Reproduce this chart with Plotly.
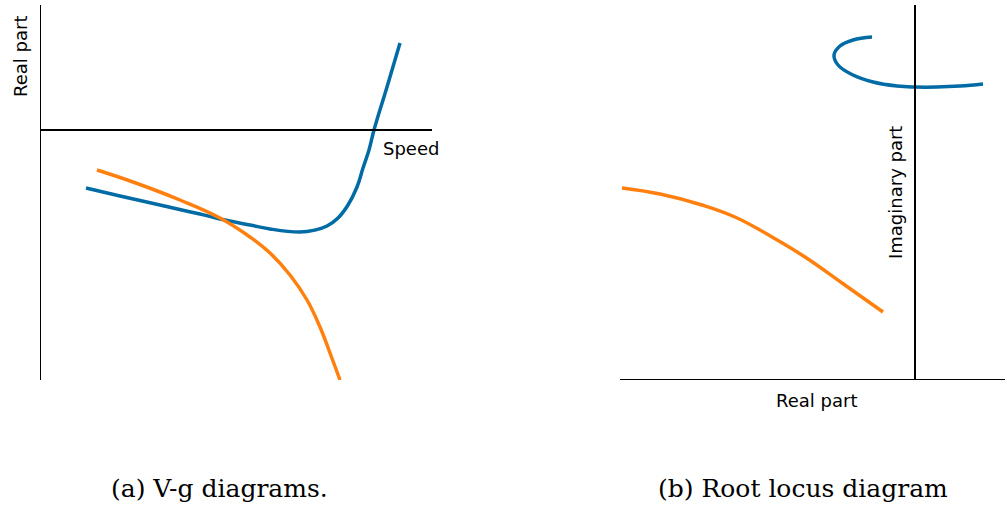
import plotly.graph_objects as go

# (a) V-g diagram: speed vs. real part of two modes
vg_speed_a = [4.6, 8.0, 12.0, 16.0, 18.0, 21.0, 23.0, 26.0, 27.5, 28.7, 29.8, 30.8, 31.7, 32.3, 32.9, 33.4, 34.7, 36.0]
vg_real_a = [-5.8, -6.6, -7.5, -8.4, -8.9, -9.5, -9.9, -10.2, -10.0, -9.6, -8.8, -7.5, -5.7, -3.8, -2.0, 0.0, 4.3, 8.7]
vg_speed_b = [5.7, 9.3, 14.0, 18.0, 21.0, 23.0, 25.0, 26.7, 28.0, 29.0, 30.0]
vg_real_b = [-4.0, -5.2, -7.0, -8.8, -10.7, -12.3, -14.5, -17.0, -19.7, -22.3, -25.0]

# (b) Root locus: real vs. imaginary part of the same two modes
rl_real_a = [-4.3, -6.2, -7.5, -8.1, -7.7, -6.2, -4.2, -1.8, 0.0, 2.2, 4.5, 6.8]
rl_imag_a = [34.3, 34.0, 33.4, 32.5, 31.5, 30.5, 29.8, 29.4, 29.3, 29.3, 29.4, 29.6]
rl_real_b = [-29.3, -25.5, -21.3, -18.0, -14.3, -11.0, -7.3, -3.2]
rl_imag_b = [19.2, 18.6, 17.5, 16.3, 14.3, 12.3, 9.7, 6.8]

BLUE = "#006BA4"
ORANGE = "#FF800E"
W, H = 1007, 508

# axis ranges for each panel
left_x = [0.0, 39.2]
left_y = [-25.0, 12.5]
right_x = [-29.5, 9.0]
right_y = [0.0, 37.5]

fig = go.Figure()

line_style = dict(width=3.5, shape="spline", smoothing=1.2)
fig.add_trace(go.Scatter(x=vg_speed_a, y=vg_real_a, mode="lines",
                         line=dict(color=BLUE, **line_style), xaxis="x", yaxis="y"))
fig.add_trace(go.Scatter(x=vg_speed_b, y=vg_real_b, mode="lines",
                         line=dict(color=ORANGE, **line_style), xaxis="x", yaxis="y"))
fig.add_trace(go.Scatter(x=rl_real_a, y=rl_imag_a, mode="lines",
                         line=dict(color=BLUE, **line_style), xaxis="x2", yaxis="y2"))
fig.add_trace(go.Scatter(x=rl_real_b, y=rl_imag_b, mode="lines",
                         line=dict(color=ORANGE, **line_style), xaxis="x2", yaxis="y2"))

hidden = dict(showgrid=False, zeroline=False, showticklabels=False,
              ticks="", showline=False, fixedrange=True)

fig.update_layout(
    width=W, height=H,
    margin=dict(l=0, r=0, t=0, b=0),
    paper_bgcolor="white", plot_bgcolor="white",
    showlegend=False,
    xaxis=dict(domain=[40 / W, 432 / W], range=left_x, anchor="y", **hidden),
    yaxis=dict(domain=[1 - 380 / H, 1 - 5 / H], range=left_y, anchor="x", **hidden),
    xaxis2=dict(domain=[620 / W, 1005 / W], range=right_x, anchor="y2", **hidden),
    yaxis2=dict(domain=[1 - 380 / H, 1 - 5 / H], range=right_y, anchor="x2", **hidden),
)

# coordinate axes drawn as black lines through the origin of each panel
axis_line = dict(color="black", width=2)
fig.add_shape(type="line", xref="x", yref="y", x0=0, x1=0,
              y0=left_y[0], y1=left_y[1], line=axis_line)
fig.add_shape(type="line", xref="x", yref="y", x0=left_x[0], x1=left_x[1],
              y0=0, y1=0, line=axis_line)
fig.add_shape(type="line", xref="x2", yref="y2", x0=0, x1=0,
              y0=right_y[0], y1=right_y[1], line=axis_line)
fig.add_shape(type="line", xref="x2", yref="y2", x0=right_x[0], x1=right_x[1],
              y0=0, y1=0, line=axis_line)

sans = dict(family="DejaVu Sans", size=18, color="black")
serif = dict(family="DejaVu Serif", size=25, color="black")


def label(text, px, py, font, angle=0):
    fig.add_annotation(text=text, x=px / W, y=1 - py / H, xref="paper", yref="paper",
                       xanchor="center", yanchor="middle", textangle=angle,
                       showarrow=False, font=font)


label("Real part", 20, 57, sans, -90)
label("Speed", 411, 149, sans)
label("Imaginary part", 895, 193, sans, -90)
label("Real part", 816, 400, sans)
label("(a) V-g diagrams.", 219, 488, serif)
label("(b) Root locus diagram", 803, 488, serif)

fig.write_html("out.html")
